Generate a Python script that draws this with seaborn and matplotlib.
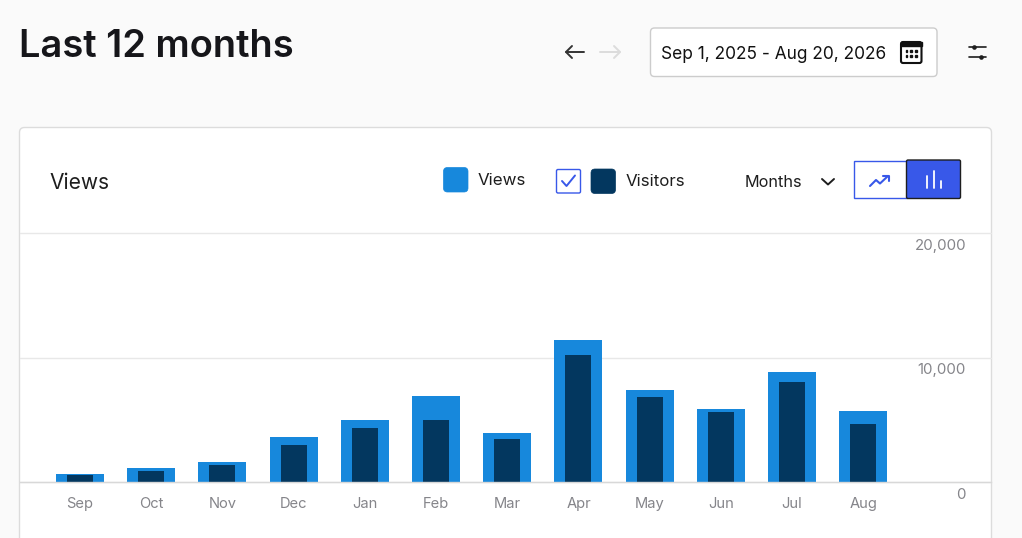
import pandas as pd
import seaborn as sns
import matplotlib
matplotlib.use("Agg")
import matplotlib.pyplot as plt
from matplotlib.patches import FancyBboxPatch, Rectangle
from matplotlib.transforms import ScaledTranslation

months = ["Sep", "Oct", "Nov", "Dec", "Jan", "Feb", "Mar", "Apr", "May", "Jun", "Jul", "Aug"]
views = [690, 1150, 1600, 3640, 4980, 6900, 3935, 11430, 7410, 5910, 8860, 5700]
visitors = [560, 930, 1365, 3020, 4390, 4980, 3500, 10200, 6850, 5650, 8060, 4680]
y_ticks = [0, 10000, 20000]

VIEWS_BLUE = "#1788dc"
VISITORS_NAVY = "#03375f"
ACCENT = "#3858e9"
INK = "#1e1e1e"
GREY = "#85858a"


def box(ax, x0, y0, x1, y1, face, edge, lw=1.0, r=2.0, z=2):
    ax.add_patch(FancyBboxPatch((x0 + r, y0 + r), x1 - x0 - 2 * r, y1 - y0 - 2 * r,
                                boxstyle="round,pad=%f,rounding_size=%f" % (r, r),
                                facecolor=face, edgecolor=edge, linewidth=lw, zorder=z))


def line(ax, xs, ys, color, lw=1.5, z=3):
    ax.plot(xs, ys, color=color, lw=lw, solid_capstyle="round", solid_joinstyle="round", zorder=z)


def draw_header(ui):
    ui.text(19, 43, "Last 12 months", fontsize=27.4, fontweight="semibold", color="#16161a", va="center_baseline")

    # arrows
    line(ui, [566, 584], [52, 52], "#333333", lw=1.4)
    line(ui, [572, 566, 572], [46, 52, 58], "#333333", lw=1.4)
    line(ui, [600, 620], [52, 52], "#dcdcdc", lw=1.4)
    line(ui, [614, 620, 614], [46, 52, 58], "#dcdcdc", lw=1.4)

    # date picker
    box(ui, 650.5, 28, 937, 76.5, "white", "#cccccc", lw=1.0, r=4)
    ui.text(661, 52.5, "Sep 1, 2025 - Aug 20, 2026", fontsize=12.45, color="#111111", va="center_baseline")
    box(ui, 901, 42, 921.5, 63, "white", "#111111", lw=1.5, r=2)
    ui.add_patch(Rectangle((901, 42), 20.5, 4, color="#111111", zorder=3))
    for cy in (51, 56):
        for cx in (906.5, 911.2, 916):
            ui.add_patch(Rectangle((cx - 0.8, cy - 0.8), 1.6, 1.6, color="#111111", zorder=3))

    # settings sliders
    line(ui, [969, 986], [47, 47], INK, lw=1.2)
    line(ui, [969, 986], [57, 57], INK, lw=1.2)
    ui.scatter([974, 981], [47, 57], s=11, color=INK, zorder=4, linewidths=0)


def draw_controls(ui):
    ui.text(49.5, 181, "Views", fontsize=15.1, color=INK, va="center_baseline")

    # legend
    box(ui, 443.5, 167.5, 468, 192, VIEWS_BLUE, VIEWS_BLUE, lw=0.5, r=4)
    ui.text(478, 179, "Views", fontsize=12.2, color=INK, va="center_baseline")
    box(ui, 556.5, 169.5, 580.5, 193, "white", ACCENT, lw=1.0, r=1.5)
    line(ui, [562, 566.5, 575], [181, 186, 175.5], ACCENT, lw=1.4)
    box(ui, 591, 169, 615.5, 193.5, VISITORS_NAVY, VISITORS_NAVY, lw=0.5, r=4)
    ui.text(625.5, 180, "Visitors", fontsize=12.2, color=INK, va="center_baseline")

    # interval dropdown
    ui.text(745, 181, "Months", fontsize=11.7, color=INK, va="center_baseline")
    line(ui, [822, 828, 834], [179, 184.5, 179], INK, lw=1.4)

    # chart type toggle
    ui.add_patch(Rectangle((854, 161), 52.5, 36.5, facecolor="white", edgecolor=ACCENT, lw=1.0, zorder=2))
    line(ui, [870, 876, 880, 888], [186, 180, 183.5, 176], ACCENT, lw=1.5)
    line(ui, [883, 889, 889], [175.5, 175.5, 181], ACCENT, lw=1.5)
    box(ui, 906.5, 160, 960.5, 198.5, ACCENT, INK, lw=1.0, r=1.5, z=3)
    for bx, top in ((926.5, 176), (933.5, 171), (940.5, 181)):
        line(ui, [bx, bx], [top, 188], "white", lw=1.3, z=4)


def draw_chart(ax):
    df = pd.DataFrame({"month": months, "views": views, "visitors": visitors})
    sns.barplot(data=df, x="month", y="views", color=VIEWS_BLUE, width=0.675, saturation=1,
                linewidth=0, ax=ax, zorder=2)
    sns.barplot(data=df, x="month", y="visitors", color=VISITORS_NAVY, width=0.365, saturation=1,
                linewidth=0, ax=ax, zorder=3)

    ax.set_facecolor("none")
    ax.set_xlim(-0.842, 12.793)
    ax.set_ylim(0, 20000)
    ax.set_xlabel("")
    ax.set_ylabel("")
    for name in ("top", "left", "right"):
        ax.spines[name].set_visible(False)
    ax.spines["bottom"].set_color("#d8d8d8")
    ax.spines["bottom"].set_linewidth(1.0)
    ax.spines["bottom"].set_zorder(4)

    ax.yaxis.tick_right()
    ax.set_yticks(y_ticks)
    ax.set_yticklabels(["{:,}".format(v) for v in y_ticks])
    ax.grid(axis="y", color="#e8e8e8", lw=1.0, clip_on=False)
    ax.set_axisbelow(True)
    ax.tick_params(axis="y", length=0, pad=-18, labelsize=10.8, labelcolor=GREY)
    ax.tick_params(axis="x", length=4, width=0.8, color="#707070", pad=6.5, labelsize=10.6, labelcolor=GREY)

    nudge = ScaledTranslation(0, -11 / 100, ax.figure.dpi_scale_trans)
    for label in ax.get_yticklabels():
        label.set_horizontalalignment("right")
        label.set_transform(label.get_transform() + nudge)


def main():
    sns.set_theme(style="white")
    plt.rcParams["font.family"] = ["Inter", "DejaVu Sans"]

    fig = plt.figure(figsize=(10.22, 5.38), dpi=100, facecolor="#fafafa")

    ui = fig.add_axes([0, 0, 1, 1], zorder=0)
    ui.set_xlim(0, 1022)
    ui.set_ylim(538, 0)
    ui.axis("off")

    # card runs off the bottom of the picture
    box(ui, 19.5, 127.5, 991.5, 600, "white", "#dcdcdc", lw=1.0, r=5, z=1)
    draw_header(ui)
    draw_controls(ui)

    ax = fig.add_axes([20 / 1022, (538 - 482.3) / 538, 971 / 1022, 249 / 538], zorder=1)
    draw_chart(ax)

    fig.savefig("out.png", dpi=100, facecolor=fig.get_facecolor())


if __name__ == "__main__":
    main()
